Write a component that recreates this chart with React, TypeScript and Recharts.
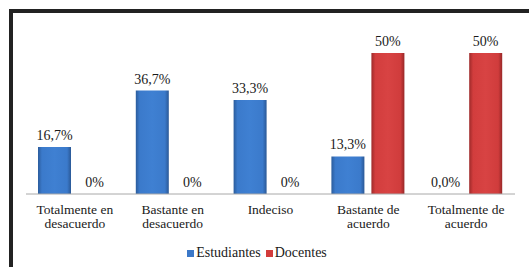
import React from "react";
import { BarChart, Bar, XAxis, YAxis, Legend, LabelList } from "recharts";

const categories = [
  ["Totalmente en", "desacuerdo"],
  ["Bastante en", "desacuerdo"],
  ["Indeciso"],
  ["Bastante de", "acuerdo"],
  ["Totalmente de", "acuerdo"],
];
const estudiantes = [16.7, 36.7, 33.3, 13.3, 0];
const docentes = [0, 0, 0, 50, 50];
const estudiantesLabels = ["16,7%", "36,7%", "33,3%", "13,3%", "0,0%"];
const docentesLabels = ["0%", "0%", "0%", "50%", "50%"];

const FONT = "Liberation Serif";
const TEXT = "#1a1a1a";

const data = categories.map((c, i) => ({
  key: String(i),
  estudiantes: estudiantes[i],
  docentes: docentes[i],
  eLabel: estudiantesLabels[i],
  dLabel: docentesLabels[i],
}));

function CategoryTick({ x, y, payload }: any) {
  const lines = categories[Number(payload.value)];
  return (
    <g>
      {lines.map((l, i) => (
        <text
          key={i}
          x={x}
          y={y + 12 + i * 14}
          textAnchor="middle"
          style={{ fontFamily: FONT }}
          fontSize={13.5}
          fill={TEXT}
        >
          {l}
        </text>
      ))}
    </g>
  );
}

function LegendContent() {
  const items = [
    { name: "Estudiantes", color: "#3b78c8" },
    { name: "Docentes", color: "#d23c3c" },
  ];
  return (
    <div
      style={{
        display: "flex",
        justifyContent: "center",
        fontFamily: FONT,
        fontSize: 14,
        color: TEXT,
        paddingRight: 22,
      }}
    >
      {items.map((it) => (
        <span key={it.name} style={{ display: "flex", alignItems: "center", marginRight: 5 }}>
          <span style={{ width: 7, height: 7, background: it.color, marginRight: 2, display: "inline-block" }} />
          {it.name}
        </span>
      ))}
    </div>
  );
}

const labelStyle = { fontFamily: FONT, fontSize: 14, fill: TEXT };

export default function App() {
  return (
    <div style={{ position: "fixed", left: 0, top: 0, width: 529, height: 267, background: "#fff", overflow: "hidden", fontFamily: FONT }}>
      <div
        style={{
          position: "absolute",
          left: 9,
          top: 9,
          width: 540,
          height: 280,
          borderTop: "4px solid #222",
          borderLeft: "4px solid #222",
        }}
      />
      <div style={{ position: "absolute", left: 0, top: 0 }}>
        <BarChart
          width={529}
          height={267}
          data={data}
          margin={{ top: 53, right: 14, bottom: 3, left: 26 }}
          barCategoryGap={12}
          barGap={7}
        >
          <defs>
            <linearGradient id="gBlue" x1="0" y1="0" x2="1" y2="0">
              <stop offset="0%" stopColor="#2b5c9c" />
              <stop offset="12%" stopColor="#3b7acb" />
              <stop offset="50%" stopColor="#3f80d2" />
              <stop offset="88%" stopColor="#3b7acb" />
              <stop offset="100%" stopColor="#2a5896" />
            </linearGradient>
            <linearGradient id="gRed" x1="0" y1="0" x2="1" y2="0">
              <stop offset="0%" stopColor="#9e2a2a" />
              <stop offset="12%" stopColor="#d23d3d" />
              <stop offset="50%" stopColor="#d84343" />
              <stop offset="88%" stopColor="#d03c3c" />
              <stop offset="100%" stopColor="#982828" />
            </linearGradient>
          </defs>
          <XAxis
            dataKey="key"
            tick={<CategoryTick />}
            tickLine={false}
            axisLine={{ stroke: "#a8a8a8" }}
            height={50}
            interval={0}
          />
          <YAxis hide domain={[0, 50]} />
          <Legend verticalAlign="bottom" height={20} content={<LegendContent />} wrapperStyle={{ bottom: 2 }} />
          <Bar dataKey="estudiantes" name="Estudiantes" fill="url(#gBlue)" minPointSize={0.1} isAnimationActive={false}>
            <LabelList dataKey="eLabel" position="top" offset={7} style={labelStyle} />
          </Bar>
          <Bar dataKey="docentes" name="Docentes" fill="url(#gRed)" minPointSize={0.1} isAnimationActive={false}>
            <LabelList dataKey="dLabel" position="top" offset={7} style={labelStyle} />
          </Bar>
        </BarChart>
      </div>
    </div>
  );
}
